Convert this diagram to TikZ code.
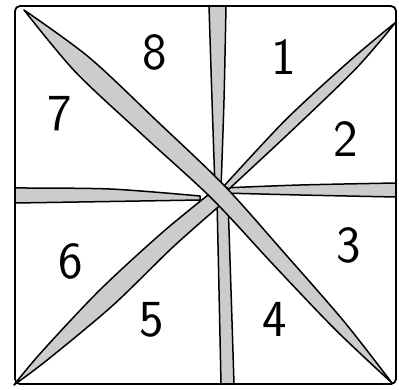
\documentclass[tikz,border=0pt]{standalone}
\usepackage{fontspec}
\usetikzlibrary{positioning}

\begin{document}
\begin{tikzpicture}[
x=1pt, y=-1pt,
strip/.style={fill=black!20, draw, line width=1.5pt, line join=round},
rim/.style={draw, line width=1.8pt, rounded corners=5pt},
num/.style={font=\fontsize{52}{52}\selectfont\sffamily, inner sep=0pt}
]
\useasboundingbox (0,0) rectangle (399,390);

% horizontal fold
\filldraw[strip] plot[smooth] coordinates {(15,188) (110,189) (200,196)}
  -- plot[smooth] coordinates {(200,200) (110,201.5) (15,203)} -- cycle;
\filldraw[strip] plot[smooth] coordinates {(222,188) (300,185) (396,183)}
  -- plot[smooth] coordinates {(396,197) (300,195) (222,193)} -- cycle;

% vertical fold
\filldraw[strip] plot[smooth] coordinates {(209,6) (212,100) (215,188)}
  -- plot[smooth] coordinates {(221,188) (224,100) (226,6)} -- cycle;
\filldraw[strip] plot[smooth] coordinates {(217,200) (219,290) (221,384)}
  -- plot[smooth] coordinates {(234,384) (231,290) (228,200)} -- cycle;

% diagonal from bottom left to top right
\filldraw[strip] plot[smooth] coordinates {(14,385) (41,352.6) (98.9,290.9) (160.8,233.8) (208,195)}
  -- plot[smooth] coordinates {(224,202) (173.2,246.8) (112.7,305.5) (48,359.4) (14,385)} -- cycle;
\filldraw[strip] plot[smooth] coordinates {(224,186) (285.9,119.6) (349.6,60.9) (396,22)}
  -- plot[smooth] coordinates {(396,22) (356.4,68.1) (294.1,128.4) (229,189)} -- cycle;

% diagonal from top left to bottom right
\filldraw[strip] plot[smooth] coordinates {(24,10) (89,57.3) (156.9,121) (224.4,185.7) (284.8,253.5) (344.2,321.7) (392,383)}
  -- plot[smooth] coordinates {(392,383) (335.4,329.7) (273,264.3) (211.6,198.3) (143.3,135.6) (75.4,71.9) (24,10)} -- cycle;

% outer square
\draw[rim] (15,6) rectangle (396,384);

% numbers
\node[num] (one) at (284,57) {1};
\node[num] (two) at (346,139) {2};
\node[num] (three) at (349,245) {3};
\node[num] (four) at (275,319) {4};
\node[num] (five) at (152,320) {5};
\node[num] (six) at (71,261) {6};
\node[num] (seven) at (60,114) {7};
\node[num] (eight) at (155,52) {8};

\end{tikzpicture}
\end{document}
